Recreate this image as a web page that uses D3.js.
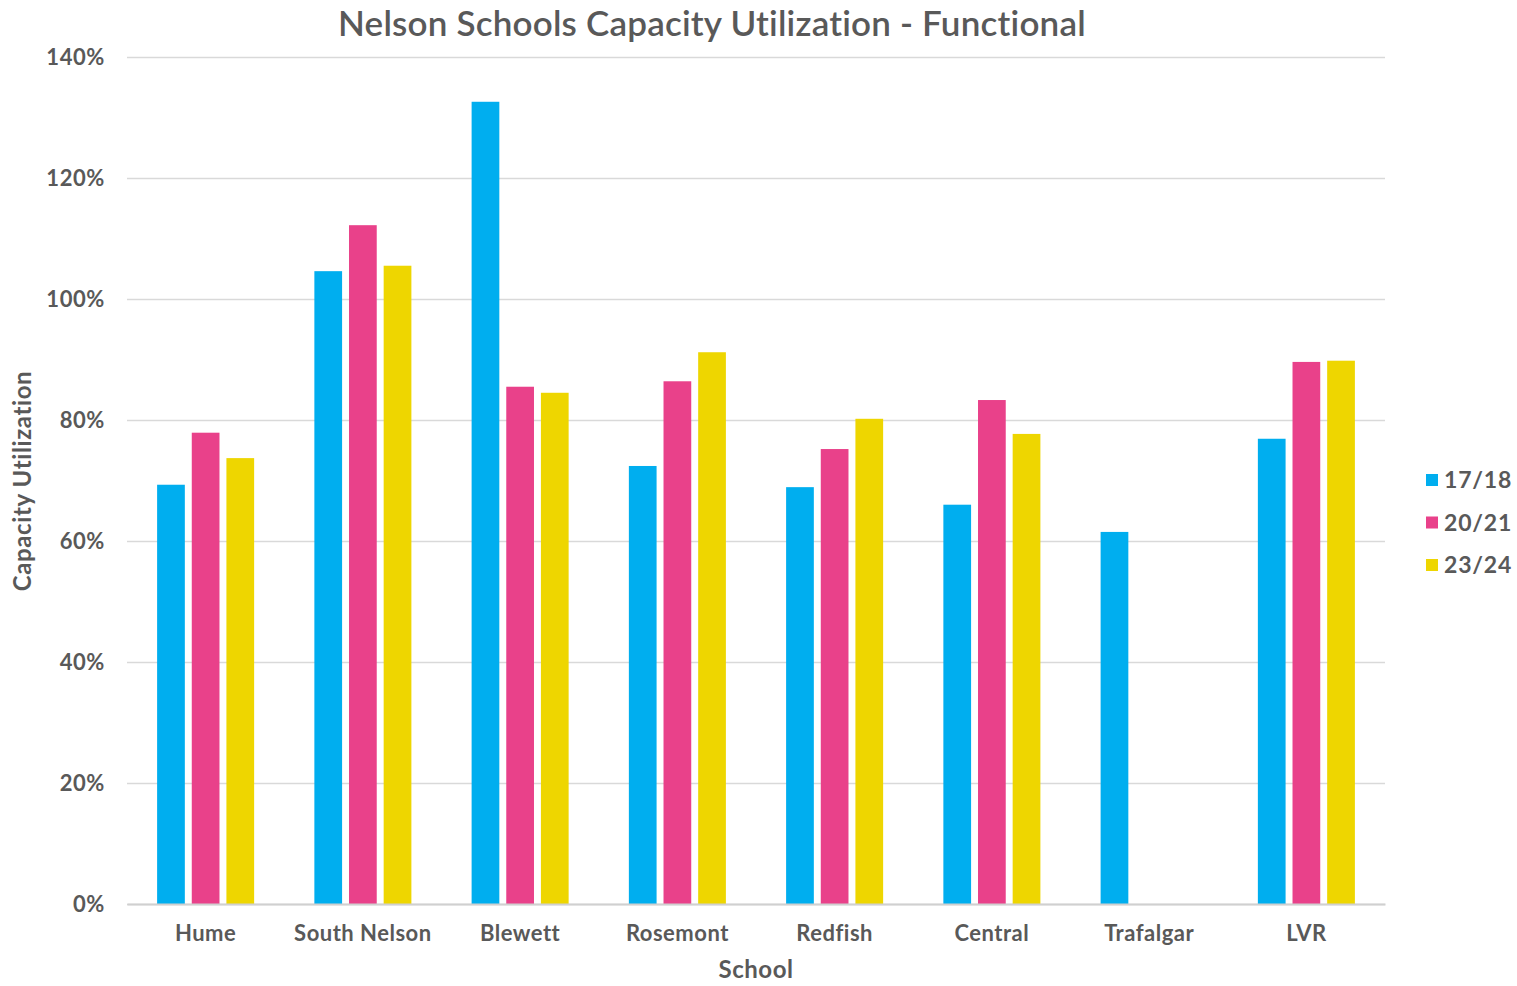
<!DOCTYPE html>
<html>
<head>
<meta charset="utf-8">
<script src="https://d3js.org/d3.v7.min.js"></script>
<style>
  html, body { margin: 0; padding: 0; background: #ffffff; }
  svg { display: block; }
  text { font-family: "Lato", "Open Sans", sans-serif; fill: #595959; }
</style>
</head>
<body>
<svg id="chart" width="1517" height="986"></svg>
<script>
const schools = ["Hume", "South Nelson", "Blewett", "Rosemont", "Redfish", "Central", "Trafalgar", "LVR"];
const seriesNames = ["17/18", "20/21", "23/24"];
const colors = ["#00AEEF", "#E9418A", "#EED600"];
const values1718 = [0.693, 1.046, 1.326, 0.724, 0.689, 0.660, 0.615, 0.769];
const values2021 = [0.779, 1.122, 0.855, 0.864, 0.752, 0.833, null, 0.896];
const values2324 = [0.737, 1.055, 0.845, 0.912, 0.802, 0.777, null, 0.898];
const yTicks = [0, 0.2, 0.4, 0.6, 0.8, 1.0, 1.2, 1.4];
const seriesValues = [values1718, values2021, values2324];

(function () {
const svg = d3.select("#chart");
const pL = 127, pR = 1385, pT = 57, pB = 904;

const x0 = d3.scaleBand().domain(schools).range([pL, pR]).paddingInner(0.383).paddingOuter(0.1915);
const x1 = d3.scaleBand().domain(seriesNames).range([0, x0.bandwidth()]).paddingInner(0.2);
const y = d3.scaleLinear().domain([0, 1.4]).range([pB, pT]);

const yAxis = d3.axisLeft(y).tickValues(yTicks).tickFormat(d3.format(".0%")).tickSize(-(pR - pL)).tickPadding(22);
const gY = svg.append("g").attr("transform", `translate(${pL},0)`).call(yAxis);
gY.select(".domain").remove();
gY.selectAll(".tick line").attr("stroke", "#d9d9d9").attr("stroke-width", 1.3);
gY.selectAll(".tick text").style("font-size", "22px").style("font-weight", "700").style("letter-spacing", "0.6px").attr("fill", "#595959");

const groups = svg.append("g").selectAll("g").data(schools).join("g")
  .attr("transform", d => `translate(${x0(d)},0)`);
groups.selectAll("rect")
  .data((d, i) => seriesNames.map((s, k) => ({ s, k, v: seriesValues[k][i] })).filter(o => o.v != null))
  .join("rect")
  .attr("x", d => x1(d.s))
  .attr("width", x1.bandwidth())
  .attr("y", d => y(d.v))
  .attr("height", d => y(0) - y(d.v))
  .attr("fill", d => colors[d.k]);

const xAxis = d3.axisBottom(x0).tickSize(0).tickPadding(21);
const gX = svg.append("g").attr("transform", `translate(0,${pB})`).call(xAxis);
gX.select(".domain").attr("stroke", "#d0d0d0").attr("stroke-width", 2);
gX.selectAll(".tick text").style("font-size", "22px").style("font-weight", "700").style("letter-spacing", "0.5px").attr("fill", "#595959");

svg.append("text").attr("x", 712).attr("y", 36).attr("text-anchor", "middle")
  .style("font-size", "35px").style("font-weight", "600").style("letter-spacing", "0.2px")
  .text("Nelson Schools Capacity Utilization - Functional");

svg.append("text").attr("x", 756).attr("y", 978).attr("text-anchor", "middle")
  .style("font-size", "24px").style("font-weight", "700").style("letter-spacing", "0.5px").text("School");
svg.append("text").attr("transform", "translate(31,481) rotate(-90)").attr("text-anchor", "middle")
  .style("font-size", "24px").style("font-weight", "700").style("letter-spacing", "0.6px").text("Capacity Utilization");

const legend = svg.append("g").selectAll("g").data(seriesNames).join("g")
  .attr("transform", (d, i) => `translate(1426,${480 + i * 42.5})`);
legend.append("rect").attr("x", 0).attr("y", -6).attr("width", 12).attr("height", 12).attr("fill", (d, i) => colors[i]);
legend.append("text").attr("x", 18).attr("y", 8).style("font-size", "23px").style("font-weight", "700").style("letter-spacing", "0.8px").text(d => d);
})();
</script>
</body>
</html>
